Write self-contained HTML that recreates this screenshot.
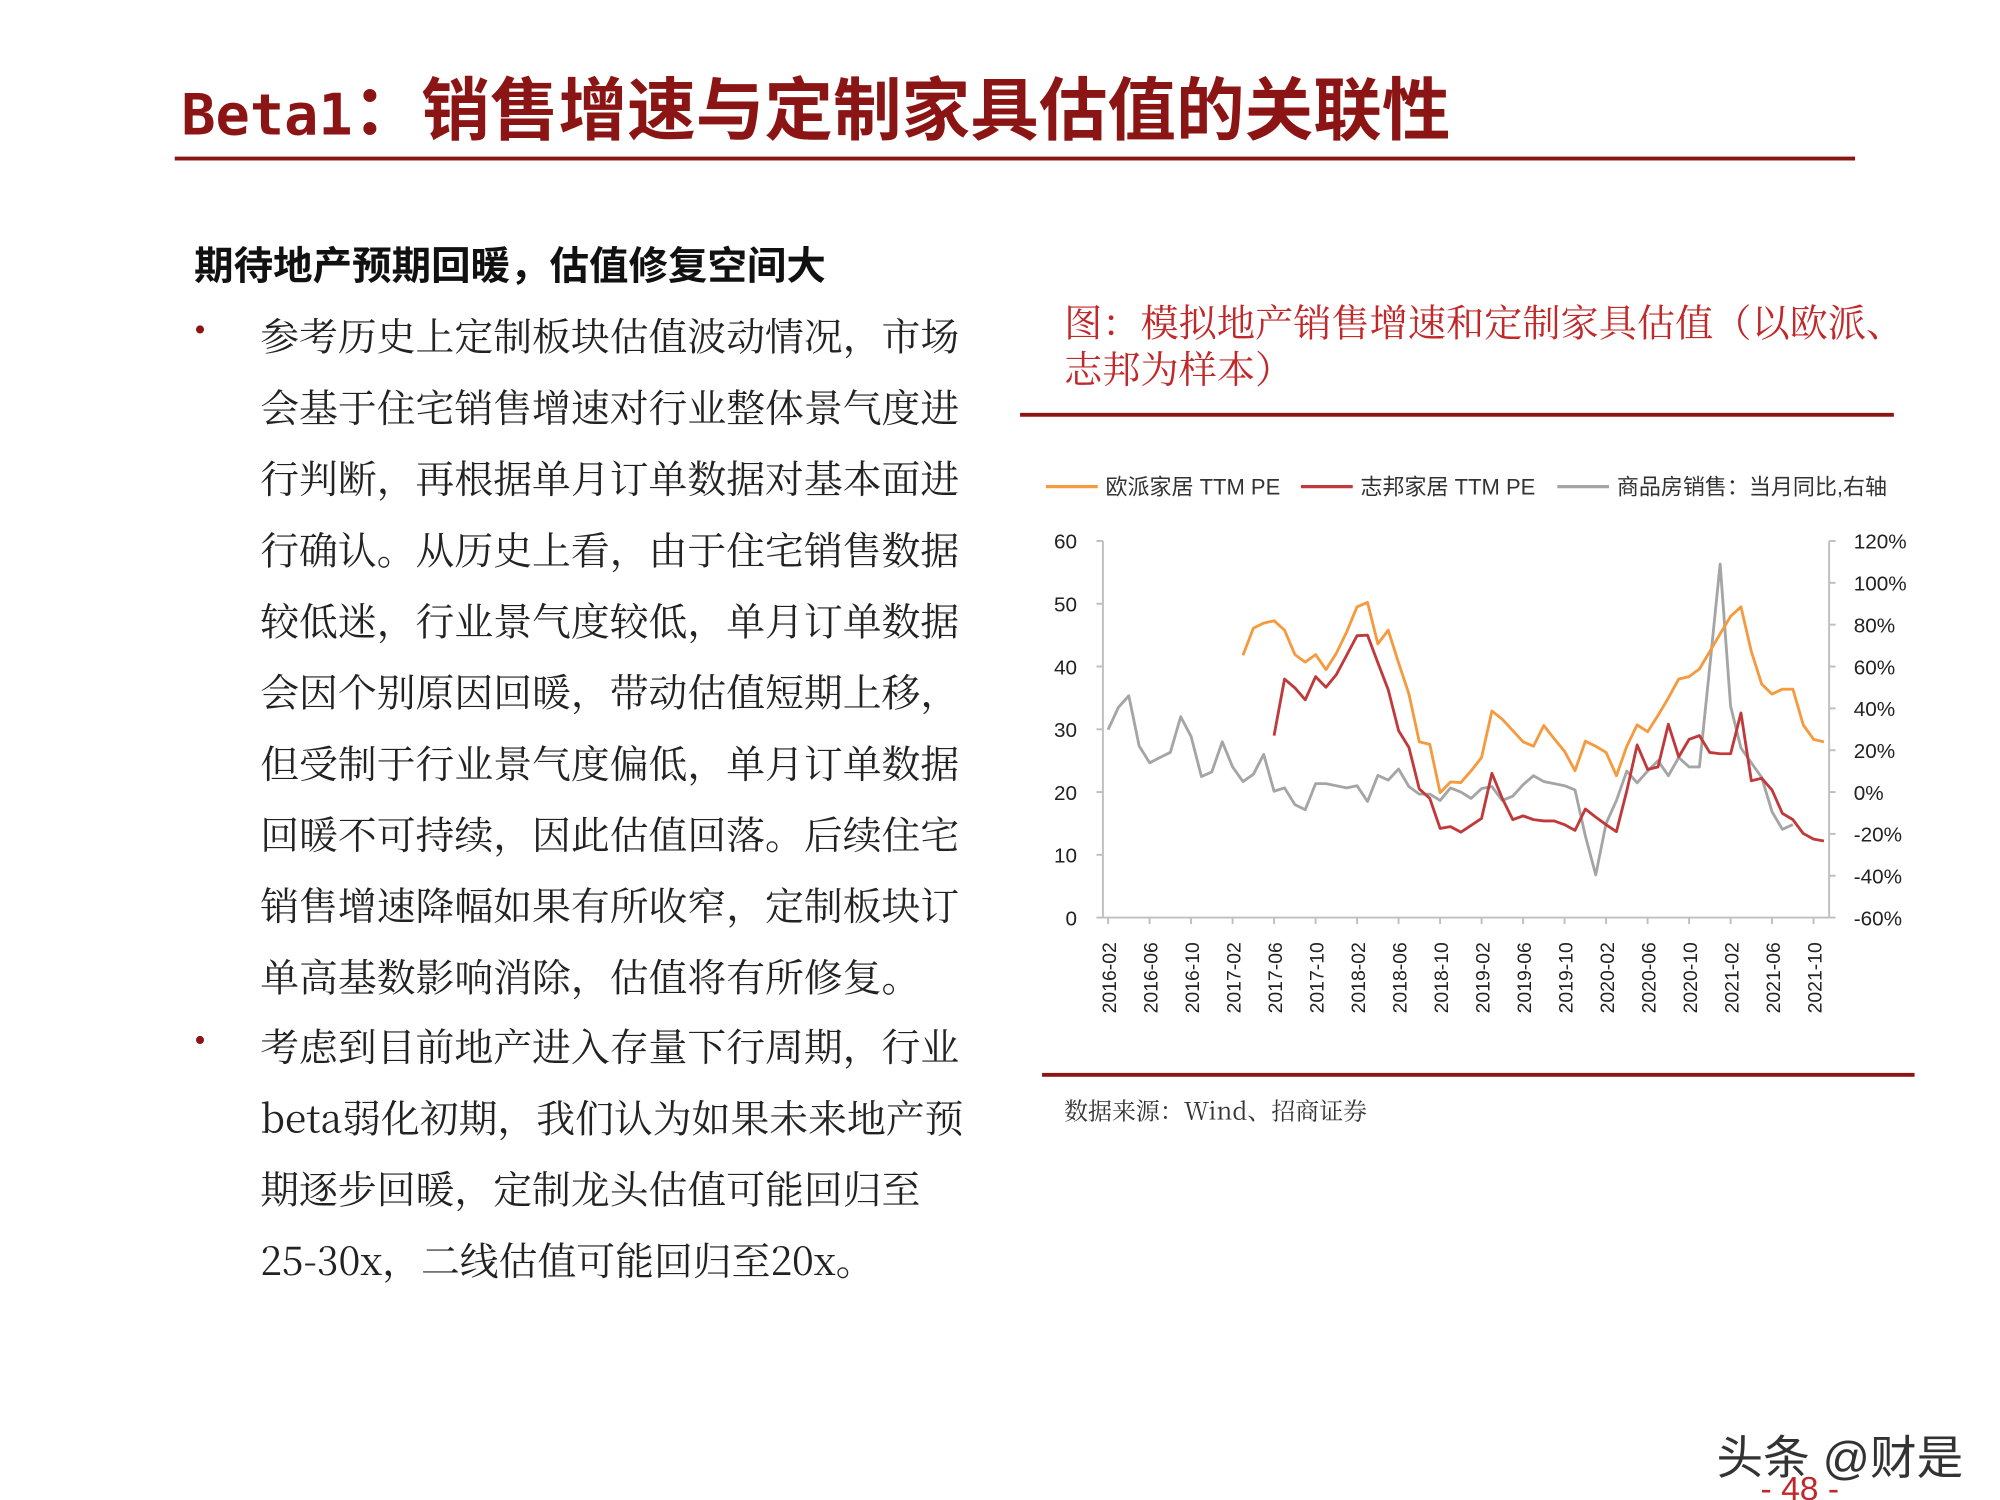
<!DOCTYPE html>
<html><head><meta charset="utf-8">
<style>
html,body{margin:0;padding:0;background:#fff;}
#root{width:2000px;height:1500px;overflow:hidden;position:relative;background:#fff;}
#page{position:absolute;left:0;top:0;width:1545px;height:1159px;transform:scale(1.2945,1.2942);transform-origin:0 0;}
.abs{position:absolute;white-space:nowrap;}
.body{font-family:"Noto Serif CJK SC","Liberation Serif",serif;font-size:30px;color:#222;left:201px;line-height:55px;}
</style></head>
<body>
<div id="root">
<div id="page">
  <div class="abs" style="left:140px;top:48px;font-size:49px;font-weight:bold;color:#8b1414;font-family:'DejaVu Sans Mono','Noto Sans CJK SC',monospace;line-height:68px;"><span style="font-size:44px;">Beta1</span><span style="font-family:'Noto Sans CJK SC',sans-serif;font-size:53px;">：销售增速与定制家具估值的关联性</span></div>
  <div class="abs" style="left:135px;top:121px;width:1298px;height:3px;background:#8b1414;"></div>

  <div class="abs" style="left:150px;top:183px;font-size:30.5px;font-weight:bold;font-family:'Noto Sans CJK SC',sans-serif;color:#111;line-height:40px;">期待地产预期回暖，估值修复空间大</div>

  <div class="abs" style="left:150px;top:240px;font-size:26px;color:#8b1414;">•</div>
  <div class="abs" style="left:150px;top:789px;font-size:26px;color:#8b1414;">•</div>
  <div class="abs body" style="top:231px;">参考历史上定制板块估值波动情况，市场<br>会基于住宅销售增速对行业整体景气度进<br>行判断，再根据单月订单数据对基本面进<br>行确认。从历史上看，由于住宅销售数据<br>较低迷，行业景气度较低，单月订单数据<br>会因个别原因回暖，带动估值短期上移，<br>但受制于行业景气度偏低，单月订单数据<br>回暖不可持续，因此估值回落。后续住宅<br>销售增速降幅如果有所收窄，定制板块订<br>单高基数影响消除，估值将有所修复。</div>
  <div class="abs body" style="top:780px;">考虑到目前地产进入存量下行周期，行业<br>beta弱化初期，我们认为如果未来地产预<br>期逐步回暖，定制龙头估值可能回归至<br>25-30x，二线估值可能回归至20x。</div>

  <div class="abs" style="left:822px;top:230px;font-size:29.5px;line-height:36px;color:#c0282a;font-family:'Noto Serif CJK SC','Liberation Serif',serif;">图：模拟地产销售增速和定制家具估值（以欧派、<br>志邦为样本）</div>
  <div class="abs" style="left:788px;top:319px;width:675px;height:3px;background:#8b1414;"></div>

  <svg class="abs" id="chart" style="left:0;top:0;" width="1545" height="1159"></svg>

  <div class="abs" style="left:805px;top:829px;width:674px;height:3px;background:#8b1414;"></div>
  <div class="abs" style="left:822px;top:845px;font-size:18.5px;color:#333;font-family:'Noto Serif CJK SC','Liberation Serif',serif;">数据来源：Wind、招商证券</div>

  <div class="abs" style="left:1326px;top:1098px;font-size:36px;color:#333;font-family:'Liberation Sans','Noto Sans CJK SC',sans-serif;">头条 @财是</div>
  <div class="abs" style="left:1360px;top:1135px;font-size:26px;color:#c0282a;font-family:'Liberation Sans',sans-serif;">- 48 -</div>
</div>
</div>
<script>
const months = [];
for (let i = 0; i < 70; i++) { const y = 2016 + Math.floor((1 + i) / 12); const m = ((1 + i) % 12) + 1; months.push(y + '-' + String(m).padStart(2, '0')); }
const oppeinPE = [null,null,null,null,null,null,null,null,null,null,null,null,null,41.8,46.1,46.9,47.3,45.8,41.9,40.7,41.9,39.5,42.1,45.5,49.5,50.2,43.6,45.8,40.6,35.6,28,27.6,19.9,21.6,21.5,23.4,25.5,32.9,31.6,29.8,28,27.3,30.6,28.5,26.5,23.4,28.1,27.3,26.3,22.6,27.3,30.7,29.6,32.2,35,38,38.4,39.6,42.4,45.2,48,49.5,42.4,37.2,35.6,36.4,36.4,30.7,28.4,28];
const zbomPE = [null,null,null,null,null,null,null,null,null,null,null,null,null,null,null,null,29,38,36.6,34.7,38.4,36.7,38.7,41.8,44.9,45,40.6,36.3,29.8,27.1,20.5,19,14.2,14.5,13.6,14.7,15.8,23,19,15.6,16.2,15.6,15.4,15.4,14.8,13.9,17.3,16,14.8,13.7,20.2,27.5,23.6,24,30.8,25.6,28.4,29,26.3,26.1,26.1,32.6,21.8,22.2,20.3,16.6,15.6,13.4,12.5,12.2];
const salesYoY = [29.8,40.5,46,22,14,16.5,19,36,26.6,7.4,9.6,24,12,5,8.5,18,0.4,2,-6,-8.5,4,4,3,2,3,-4.5,8,5.7,11,2.6,-1,-1,-4,2,0,-3,1.7,2.6,-4,-2,3.5,7.8,5,4,3,1,-21,-39.6,-15,-4,10,4.4,10,15,7.8,16.5,12,12,60,109,41,21,14,7,-9.4,-17.8,-15.5,null,null,null];
const leftTicks = [0,10,20,30,40,50,60];
const rightTicks = ['-60%','-40%','-20%','0%','20%','40%','60%','80%','100%','120%'];
const rightTickValues = [-60,-40,-20,0,20,40,60,80,100,120];

const svg = document.getElementById('chart');
const NS = 'http://www.w3.org/2000/svg';
const L = 852, R = 1413, T = 418, B = 709;
const n = months.length, cw = (R - L) / n;
const xs = i => L + (i + 0.5) * cw;
const yL = v => B - (v / 60) * (B - T);
const yR = v => B - ((v + 60) / 180) * (B - T);
function mk(tag, attrs) { const e = document.createElementNS(NS, tag); for (const k in attrs) e.setAttribute(k, attrs[k]); svg.appendChild(e); return e; }
const font = "'Liberation Sans','Noto Sans CJK SC',sans-serif";

let e;
e = mk('line', {x1:L,y1:T,x2:L,y2:B,stroke:'#bfbfbf','stroke-width':1.5});
 
e = mk('line', {x1:R,y1:T,x2:R,y2:B,stroke:'#bfbfbf','stroke-width':1.5});
 
e = mk('line', {x1:L,y1:B,x2:R,y2:B,stroke:'#bfbfbf','stroke-width':1.5});
 

leftTicks.forEach(v => {
  const y = yL(v);
  e = mk('line', {x1:L-5,y1:y,x2:L,y2:y,stroke:'#bfbfbf','stroke-width':1.5});
   
  e = mk('text', {x:832,y:y+6,'text-anchor':'end','font-size':16,fill:'#222','font-family':font});
  e.textContent = v;
   
});
rightTicks.forEach((lab, k) => {
  const y = yR(rightTickValues[k]);
  e = mk('line', {x1:R,y1:y,x2:R+5,y2:y,stroke:'#bfbfbf','stroke-width':1.5});
   
  e = mk('text', {x:1432,y:y+6,'text-anchor':'start','font-size':16,fill:'#222','font-family':font});
  e.textContent = lab;
   
});
months.forEach((m, i) => {
  if (i % 4 !== 0) return;
  const x = xs(i);
  e = mk('line', {x1:x,y1:B,x2:x,y2:B+5,stroke:'#bfbfbf','stroke-width':1.5});
   
  e = mk('text', {x:x+6,y:728,'text-anchor':'end','font-size':15,fill:'#222','font-family':font,transform:'rotate(-90 '+(x+6)+' 728)'});
  e.textContent = m;
   
});
function path(data, yf) {
  let d = '', pen = false;
  data.forEach((v, i) => { if (v === null) { pen = false; return; } d += (pen ? 'L' : 'M') + xs(i).toFixed(1) + ' ' + yf(v).toFixed(1) + ' '; pen = true; });
  return d;
}
e = mk('path', {d:path(salesYoY, yR),fill:'none',stroke:'#a5a5a5','stroke-width':2.2,'stroke-linejoin':'round'});
 
e = mk('path', {d:path(zbomPE, yL),fill:'none',stroke:'#c0393b','stroke-width':2.2,'stroke-linejoin':'round'});
 
e = mk('path', {d:path(oppeinPE, yL),fill:'none',stroke:'#f59a3e','stroke-width':2.2,'stroke-linejoin':'round'});
 

const legendNames = ['欧派家居 TTM PE', '志邦家居 TTM PE', '商品房销售：当月同比,右轴'];
const legendColors = ['#f59a3e', '#c0393b', '#a5a5a5'];
const legendX = [808, 1005, 1203];
legendNames.forEach((nm, k) => {
  e = mk('line', {x1:legendX[k],y1:376,x2:legendX[k]+40,y2:376,stroke:legendColors[k],'stroke-width':2.5});
   
  e = mk('text', {x:legendX[k]+46,y:382,'font-size':17,fill:'#333','font-family':font});
  e.textContent = nm;
   
});
</script>
</body></html>
